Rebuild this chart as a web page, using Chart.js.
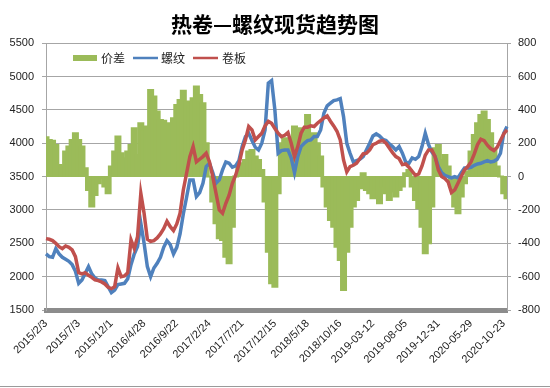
<!DOCTYPE html>
<html><head><meta charset="utf-8">
<script src="https://cdn.jsdelivr.net/npm/chart.js@4/dist/chart.umd.min.js"></script>
<style>html,body{margin:0;padding:0;background:#fff}#c{display:block}</style>
</head><body>
<canvas id="c" width="550" height="388"></canvas>
<script>
const tickLabels = ['2015/2/3','2015/7/3','2015/12/1','2016/4/28','2016/9/22','2017/2/24','2017/7/21','2017/12/15','2018/5/18','2018/10/16','2019-03-12','2019-08-05','2019-12-31','2020-05-29','2020-10-23'];

// 价差 (right axis)
const spread = [
 236,220,215,190,70,60,150,180,220,260,
 220,180,50,-80,-180,-110,-40,-10,-60,-100,
 60,150,240,140,110,150,190,290,130,320,
 270,300,520,480,390,340,335,320,315,350,
 430,460,515,450,420,470,540,490,440,200,
 0,-150,-280,-370,-380,-480,-520,-300,0,60,
 80,100,150,160,120,100,40,-150,-450,-640,
 -660,-100,200,230,180,220,300,250,290,250,
 370,230,260,200,120,-60,-180,-260,-300,-420,
 -500,-680,-450,-300,-180,-140,-70,20,-80,-100,
 -130,-80,-160,-60,-100,-140,-90,-120,-80,-60,
 20,40,-60,-140,-190,-300,-460,-400,-180,170,
 190,100,130,60,-60,-180,-220,-120,-40,30,
 150,250,320,370,390,340,260,160,60,0,
 -100,-130
];

// 螺纹 (left axis)
const rebar = [
 2340,2300,2290,2420,2340,2290,2260,2230,2180,2080,
 1900,1950,2050,2150,2040,1980,1950,1950,1940,1850,
 1760,1800,1880,1890,1900,1970,2180,2340,2450,2800,
 2500,2150,2000,2130,2200,2290,2440,2540,2480,2340,
 2440,2640,2940,3190,3450,3450,3200,3260,3400,3650,
 3700,3560,3400,3450,3600,3720,3700,3640,3660,3740,
 3950,4100,4150,4040,3940,3900,4000,4200,4900,4940,
 4500,3850,3890,3900,3900,3780,3560,3800,3950,4000,
 4040,4050,4100,4100,4200,4450,4560,4600,4640,4650,
 4670,4400,4000,3850,3720,3740,3760,3800,3900,4000,
 4110,4140,4110,4060,4040,3990,3950,3900,3950,3850,
 3720,3700,3780,3760,3800,3950,4150,3980,3870,3800,
 3650,3560,3520,3500,3480,3500,3480,3560,3630,3630,
 3640,3670,3690,3700,3720,3740,3720,3730,3760,3850,
 4150,4250
];

// 卷板 (left axis)
const coil = [
 2570,2560,2540,2500,2450,2420,2460,2440,2400,2300,
 2060,2040,2060,2020,1990,1950,1940,1920,1890,1840,
 1820,1850,2130,2000,2010,2060,2550,2420,2600,3250,
 2950,2560,2530,2540,2580,2640,2720,2830,2750,2690,
 2790,2950,3300,3550,3800,3950,3720,3760,3800,3850,
 3720,3500,3250,3000,2950,3100,3220,3400,3520,3680,
 3900,4050,4250,4200,4050,4100,4150,4260,4330,4300,
 4220,4150,4100,4120,4160,4000,3800,3950,4150,4240,
 4240,4260,4250,4300,4340,4380,4410,4330,4260,4180,
 4050,3750,3570,3650,3670,3700,3770,3840,3850,3900,
 3980,4000,4030,4040,4000,3930,3860,3800,3770,3680,
 3690,3640,3580,3520,3540,3660,3820,3900,3900,3800,
 3600,3500,3470,3420,3260,3300,3400,3500,3600,3650,
 3720,3840,3980,4060,4040,3970,3920,3890,3940,4040,
 4140,4200
];

const categories = spread.map((_, i) => (i % 10 === 0 && tickLabels[i / 10]) ? tickLabels[i / 10] : '');

const GREEN = '#9bbb59', BLUE = '#4f81bd', RED = '#c0504d', GRID = '#a6a6a6';
const tickFont = { family: '"Liberation Sans", Arial, sans-serif', size: 11 };

const legendPlugin = {
  id: 'customLegend',
  afterDraw(chart) {
    const ctx = chart.ctx;
    ctx.save();
    const y = 58;
    ctx.font = '12px "Noto Sans CJK SC", sans-serif';
    ctx.textBaseline = 'middle';
    const items = chart.data.datasets;
    ctx.fillStyle = GREEN;
    ctx.fillRect(73, y - 3, 24, 6);
    ctx.fillStyle = '#222';
    ctx.fillText(items[0].label, 101, y);
    ctx.strokeStyle = BLUE; ctx.lineWidth = 2.5;
    ctx.beginPath(); ctx.moveTo(133, y); ctx.lineTo(158, y); ctx.stroke();
    ctx.fillText(items[1].label, 161, y);
    ctx.strokeStyle = RED;
    ctx.beginPath(); ctx.moveTo(193, y); ctx.lineTo(218, y); ctx.stroke();
    ctx.fillText(items[2].label, 222, y);
    ctx.strokeStyle = '#9a9a9a'; ctx.lineWidth = 1;
    ctx.beginPath(); ctx.moveTo(0, 386.5); ctx.lineTo(550, 386.5); ctx.stroke();
    ctx.restore();
  }
};

new Chart(document.getElementById('c'), {
  type: 'bar',
  data: {
    labels: categories,
    datasets: [
      { type: 'bar', label: '价差', data: spread, yAxisID: 'y2', backgroundColor: GREEN, borderColor: GREEN, borderWidth: 0, barThickness: 5, inflateAmount: 1, order: 3 },
      { type: 'line', label: '螺纹', data: rebar, yAxisID: 'y', borderColor: BLUE, borderWidth: 3.5, pointRadius: 0, tension: 0, fill: false, order: 2 },
      { type: 'line', label: '卷板', data: coil, yAxisID: 'y', borderColor: RED, borderWidth: 3.5, pointRadius: 0, tension: 0, fill: false, order: 1 }
    ]
  },
  options: {
    responsive: false,
    animation: false,
    devicePixelRatio: 1,
    layout: { padding: 0 },
    plugins: {
      legend: { display: false },
      tooltip: { enabled: false },
      title: {
        display: true,
        text: '热卷—螺纹现货趋势图',
        color: '#000',
        font: { family: '"Noto Sans CJK SC", sans-serif', size: 21, weight: 'bold' },
        padding: { top: 11, bottom: 7 }
      }
    },
    scales: {
      x: {
        offset: false,
        grid: { display: false, drawTicks: false },
        border: { display: true, color: '#8c8c8c', width: 5 },
        ticks: {
          autoSkip: false, maxRotation: 45, minRotation: 45, padding: 7,
          font: tickFont, color: '#222',
          callback: (v) => categories[v]
        },
        afterFit: (s) => { s.height = 78; }
      },
      y: {
        position: 'left', min: 1500, max: 5500,
        ticks: { stepSize: 500, padding: 8, font: tickFont, color: '#222', callback: (v) => String(v) },
        grid: { color: GRID, tickLength: 4 },
        border: { color: GRID },
        afterFit: (s) => { s.width = 46; }
      },
      y2: {
        position: 'right', min: -800, max: 800,
        ticks: { stepSize: 200, padding: 7, font: tickFont, color: '#222', callback: (v) => String(v) },
        grid: { drawOnChartArea: false, color: GRID, tickLength: 4 },
        border: { color: GRID },
        afterFit: (s) => { s.width = 43; }
      }
    }
  },
  plugins: [legendPlugin]
});
</script>
</body></html>
